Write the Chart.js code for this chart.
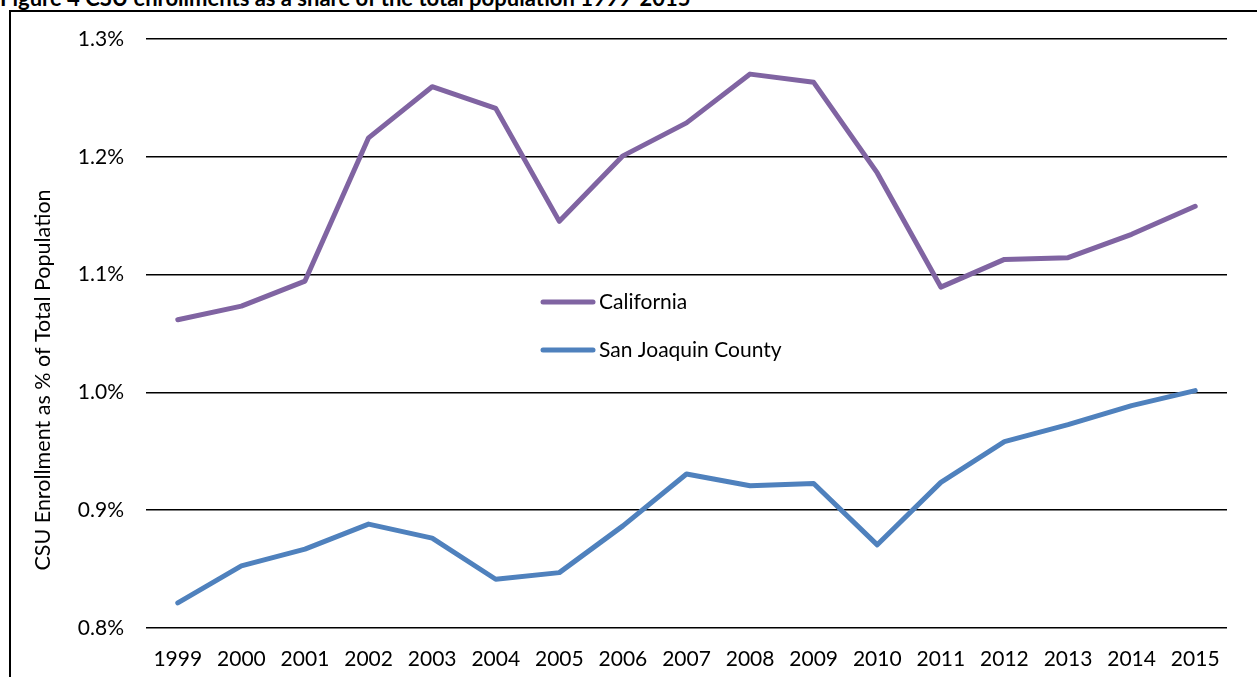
<!doctype html>
<html lang="en">
  <head>
    <meta charset="utf-8">
    <title>CSU enrollments as a share of the total population</title>
    <script src="https://cdn.jsdelivr.net/npm/chart.js@4.4.1/dist/chart.umd.min.js"></script>
    <style>
        html, body { margin: 0; padding: 0; background: #fff; overflow: hidden; }
        #fig-title {
            position: absolute; left: 0; top: -13px; white-space: nowrap;
            font: bold 22px Lato, sans-serif; line-height: 22px; color: #000;
        }
        #frame {
            position: absolute; left: 9px; top: 10px; width: 1300px; height: 700px;
            border-left: 2px solid #000; border-top: 2px solid #000;
        }
        #wrap { position: absolute; left: 0; top: 0; width: 1257px; height: 677px; }
    </style>
  </head>
  <body>
    <div id="fig-title">Figure 4 CSU enrollments as a share of the total population 1999-2015</div>
    <div id="frame"></div>
    <div id="wrap"><canvas id="line-chart"></canvas></div>

    <script>
        // data (percent of total population)
        const years = ['1999', '2000', '2001', '2002', '2003', '2004', '2005', '2006', '2007',
                       '2008', '2009', '2010', '2011', '2012', '2013', '2014', '2015']
        const california = [1.0617, 1.0732, 1.0945, 1.2161, 1.2595, 1.2411, 1.1452, 1.2008, 1.2288,
                            1.2702, 1.2632, 1.1863, 1.0894, 1.1129, 1.1144, 1.1342, 1.1580]
        const sanJoaquin = [0.8213, 0.8527, 0.8669, 0.8882, 0.8763, 0.8414, 0.8470, 0.8867, 0.9307,
                            0.9207, 0.9227, 0.8706, 0.9236, 0.9582, 0.9726, 0.9888, 1.0015]
        const yTicks = [0.8, 0.9, 1.0, 1.1, 1.2, 1.3]
        const yTitle = 'CSU Enrollment as % of Total Population'

        const font = 'Lato, sans-serif'

        // legend sits inside the plot, drawn by hand
        const legendInside = {
            id: 'legendInside',
            afterDraw(chart) {
                const ctx = chart.ctx
                ctx.save()
                chart.data.datasets.forEach(function (ds, i) {
                    const y = 302 + i * 48
                    ctx.strokeStyle = ds.borderColor
                    ctx.lineWidth = 5
                    ctx.lineCap = 'round'
                    ctx.beginPath()
                    ctx.moveTo(543, y)
                    ctx.lineTo(593, y)
                    ctx.stroke()
                    ctx.fillStyle = '#000'
                    ctx.font = '21px ' + font
                    ctx.textBaseline = 'middle'
                    ctx.textAlign = 'left'
                    ctx.fillText(ds.label, 599, y)
                })
                // y axis title
                ctx.translate(43, 380)
                ctx.rotate(-Math.PI / 2)
                ctx.textAlign = 'center'
                ctx.textBaseline = 'middle'
                ctx.font = '21.5px ' + font
                ctx.fillText(yTitle, 0, 0)
                ctx.restore()
            }
        }

        new Chart(document.getElementById('line-chart'), {
            type: 'line',
            data: {
                labels: years,
                datasets: [
                    {
                        label: 'California',
                        data: california,
                        borderColor: '#8064A2',
                        borderWidth: 5,
                        pointRadius: 0,
                        tension: 0,
                        borderCapStyle: 'round',
                        borderJoinStyle: 'round'
                    },
                    {
                        label: 'San Joaquin County',
                        data: sanJoaquin,
                        borderColor: '#4F81BD',
                        borderWidth: 5,
                        pointRadius: 0,
                        tension: 0,
                        borderCapStyle: 'round',
                        borderJoinStyle: 'round'
                    }
                ]
            },
            options: {
                responsive: true,
                maintainAspectRatio: false,
                animation: false,
                layout: { padding: { top: 39, right: 30, left: 0, bottom: 0 } },
                plugins: {
                    legend: { display: false },
                    tooltip: { enabled: false },
                    title: { display: false }
                },
                scales: {
                    x: {
                        offset: true,
                        grid: { display: false, drawTicks: false },
                        border: { display: false },
                        ticks: { color: '#000', font: { family: font, size: 21 }, padding: 19, maxRotation: 0, autoSkip: false },
                        afterFit(scale) { scale.height = 49 }
                    },
                    y: {
                        min: 0.8,
                        max: 1.3,
                        afterBuildTicks(scale) { scale.ticks = yTicks.map(v => ({ value: v })) },
                        grid: { color: '#000', lineWidth: 1.5, drawTicks: false },
                        border: { display: false },
                        ticks: {
                            color: '#000',
                            font: { family: font, size: 21 },
                            padding: 22,
                            callback: v => v.toFixed(1) + '%'
                        },
                        afterFit(scale) { scale.width = 146 }
                    }
                }
            },
            plugins: [legendInside]
        })
    </script>
  </body>
</html>
